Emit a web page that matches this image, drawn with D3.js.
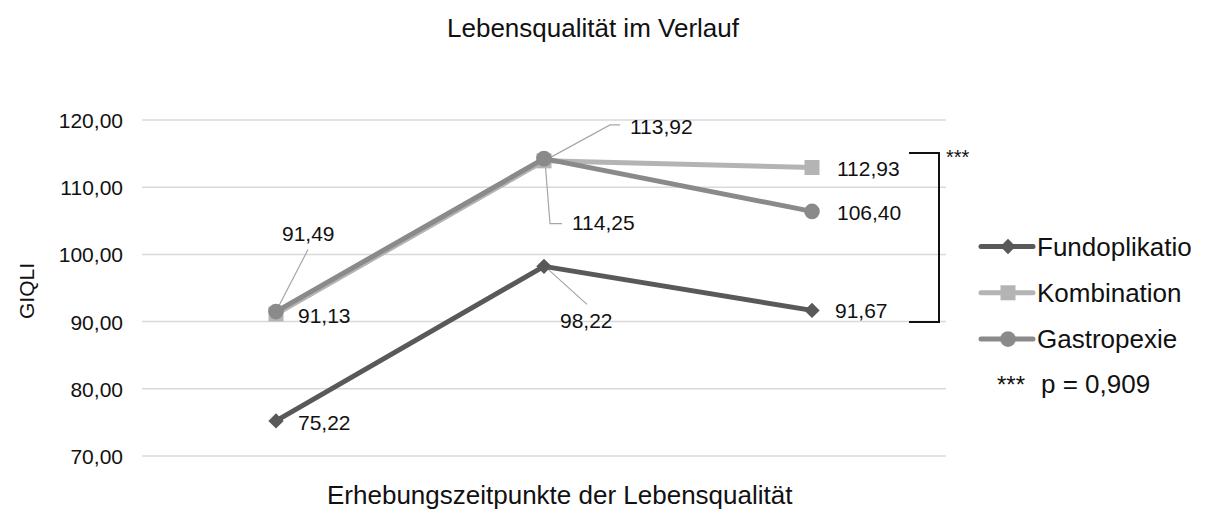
<!DOCTYPE html>
<html>
<head>
<meta charset="utf-8">
<script src="https://cdn.jsdelivr.net/npm/d3@7"></script>
<style>
  body { margin: 0; background: #fff; }
  svg { font-family: "Liberation Sans", Arial, sans-serif; }
</style>
</head>
<body>
<svg id="chart" width="1208" height="511"></svg>
<script>
// data
const categories = ["T0", "T1", "T2"];
const seriesNames = ["Fundoplikatio", "Kombination", "Gastropexie"];
const fundoplikatio = [75.22, 98.22, 91.67];
const kombination = [91.13, 113.92, 112.93];
const gastropexie = [91.49, 114.25, 106.40];
const yTicks = [70, 80, 90, 100, 110, 120];

const colors = { Fundoplikatio: "#595959", Kombination: "#b4b4b4", Gastropexie: "#8a8a8a" };
const series = [
  { name: "Fundoplikatio", values: fundoplikatio, marker: "diamond" },
  { name: "Kombination", values: kombination, marker: "square" },
  { name: "Gastropexie", values: gastropexie, marker: "circle" }
];

const svg = d3.select("#chart");
const plotLeft = 142, plotRight = 946, plotTop = 120, plotBottom = 456;

var x = d3.scaleBand().domain(categories).range([plotLeft, plotRight]);
var y = d3.scaleLinear().domain([70, 120]).range([plotBottom, plotTop]);
const fmt = v => v.toFixed(2).replace(".", ",");
const cx = (i) => x(categories[i]) + x.bandwidth() / 2;

// gridlines
svg.append("g")
  .selectAll("line")
  .data(yTicks)
  .enter()
  .append("line")
  .attr("x1", plotLeft).attr("x2", plotRight)
  .attr("y1", d => y(d)).attr("y2", d => y(d))
  .attr("stroke", "#d9d9d9")
  .attr("stroke-width", 1.5);

// y axis labels
svg.append("g")
  .selectAll("text")
  .data(yTicks)
  .enter()
  .append("text")
  .attr("x", 123)
  .attr("y", d => y(d) + 8)
  .attr("text-anchor", "end")
  .attr("font-size", 21)
  .attr("fill", "#111")
  .text(d => fmt(d));

// titles
svg.append("text").attr("x", 447).attr("y", 37)
  .attr("font-size", 26).attr("fill", "#111").text("Lebensqualität im Verlauf");
svg.append("text").attr("x", 327).attr("y", 504)
  .attr("font-size", 26).attr("fill", "#111").text("Erhebungszeitpunkte der Lebensqualität");
svg.append("text").attr("transform", "translate(34,291) rotate(-90)")
  .attr("text-anchor", "middle").attr("font-size", 21).attr("fill", "#111").text("GIQLI");

function marker(g, type, px, py, color) {
  if (type === "diamond") {
    g.append("path").attr("d", d3.symbol(d3.symbolDiamond2, 150)()).attr("transform", `translate(${px},${py})`).attr("fill", color);
  } else if (type === "square") {
    g.append("rect").attr("x", px - 7.5).attr("y", py - 7.5).attr("width", 15).attr("height", 15).attr("fill", color);
  } else {
    g.append("circle").attr("cx", px).attr("cy", py).attr("r", 7.8).attr("fill", color);
  }
}

// leader lines (behind)
const leaders = svg.append("g").attr("stroke", "#a6a6a6").attr("stroke-width", 1.2).attr("fill", "none");

// series lines
const line = d3.line().x((d, i) => cx(i)).y(d => y(d));
series.forEach(function(s) {
  const g = svg.append("g");
  g.append("path").datum(s.values).attr("d", line)
    .attr("fill", "none").attr("stroke", colors[s.name]).attr("stroke-width", 5)
    .attr("stroke-linejoin", "round");
  s.values.forEach(function(v, i) {
    marker(g, s.marker, cx(i), y(v), colors[s.name]);
  });
});

// leader lines for moved labels
leaders.append("path").attr("d", `M${cx(0) + 2},${y(gastropexie[0]) - 4} L${cx(0) + 32},${y(gastropexie[0]) - 62}`);
leaders.append("path").attr("d", `M${cx(1) + 2},${y(kombination[1]) - 1} L${cx(1) + 66},${y(kombination[1]) - 36} L${cx(1) + 76},${y(kombination[1]) - 36}`);
leaders.append("path").attr("d", `M${cx(1) + 1},${y(gastropexie[1]) + 2} L${cx(1) + 6},${y(gastropexie[1]) + 65} L${cx(1) + 18},${y(gastropexie[1]) + 65}`);
leaders.append("path").attr("d", `M${cx(1) + 2},${y(fundoplikatio[1]) + 1} L${cx(1) + 43},${y(fundoplikatio[1]) + 38}`);

// data labels [value, category index, x offset, y offset]
const labels = [
  [fundoplikatio[0], 0, 22, 9], [fundoplikatio[1], 1, 16, 62], [fundoplikatio[2], 2, 23, 8],
  [kombination[0], 0, 22, 9], [kombination[1], 1, 86, -27], [kombination[2], 2, 25, 8.5],
  [gastropexie[0], 0, 6, -71], [gastropexie[1], 1, 28, 71.5], [gastropexie[2], 2, 25, 8.6]
];
svg.append("g").selectAll("text").data(labels).enter().append("text")
  .attr("x", d => cx(d[1]) + d[2])
  .attr("y", d => y(d[0]) + d[3])
  .attr("font-size", 21)
  .attr("fill", "#111")
  .text(d => fmt(d[0]));

// significance bracket
const br = svg.append("g");
br.append("path")
  .attr("d", `M909,${y(kombination[2]) - 14.5} L939,${y(kombination[2]) - 14.5} L939,${y(90) + 0.5} L909,${y(90) + 0.5}`)
  .attr("fill", "none").attr("stroke", "#111").attr("stroke-width", 2);
br.append("text").attr("x", 946).attr("y", 164).attr("font-size", 20).attr("fill", "#111").text("***");

// legend
const lg = svg.append("g");
series.forEach(function(s, i) {
  const ly = 246.5 + i * 46.3;
  lg.append("line").attr("x1", 981).attr("x2", 1033).attr("y1", ly).attr("y2", ly)
    .attr("stroke", colors[s.name]).attr("stroke-width", 5).attr("stroke-linecap", "round");
  marker(lg, s.marker, 1008, ly, colors[s.name]);
  lg.append("text").attr("x", 1037).attr("y", ly + 9).attr("font-size", 26).attr("fill", "#111").text(s.name);
});
lg.append("text").attr("x", 997).attr("y", 393).attr("font-size", 24).attr("fill", "#111").text("***");
lg.append("text").attr("x", 1041).attr("y", 393).attr("font-size", 26).attr("fill", "#111").text("p = 0,909");
</script>
</body>
</html>
